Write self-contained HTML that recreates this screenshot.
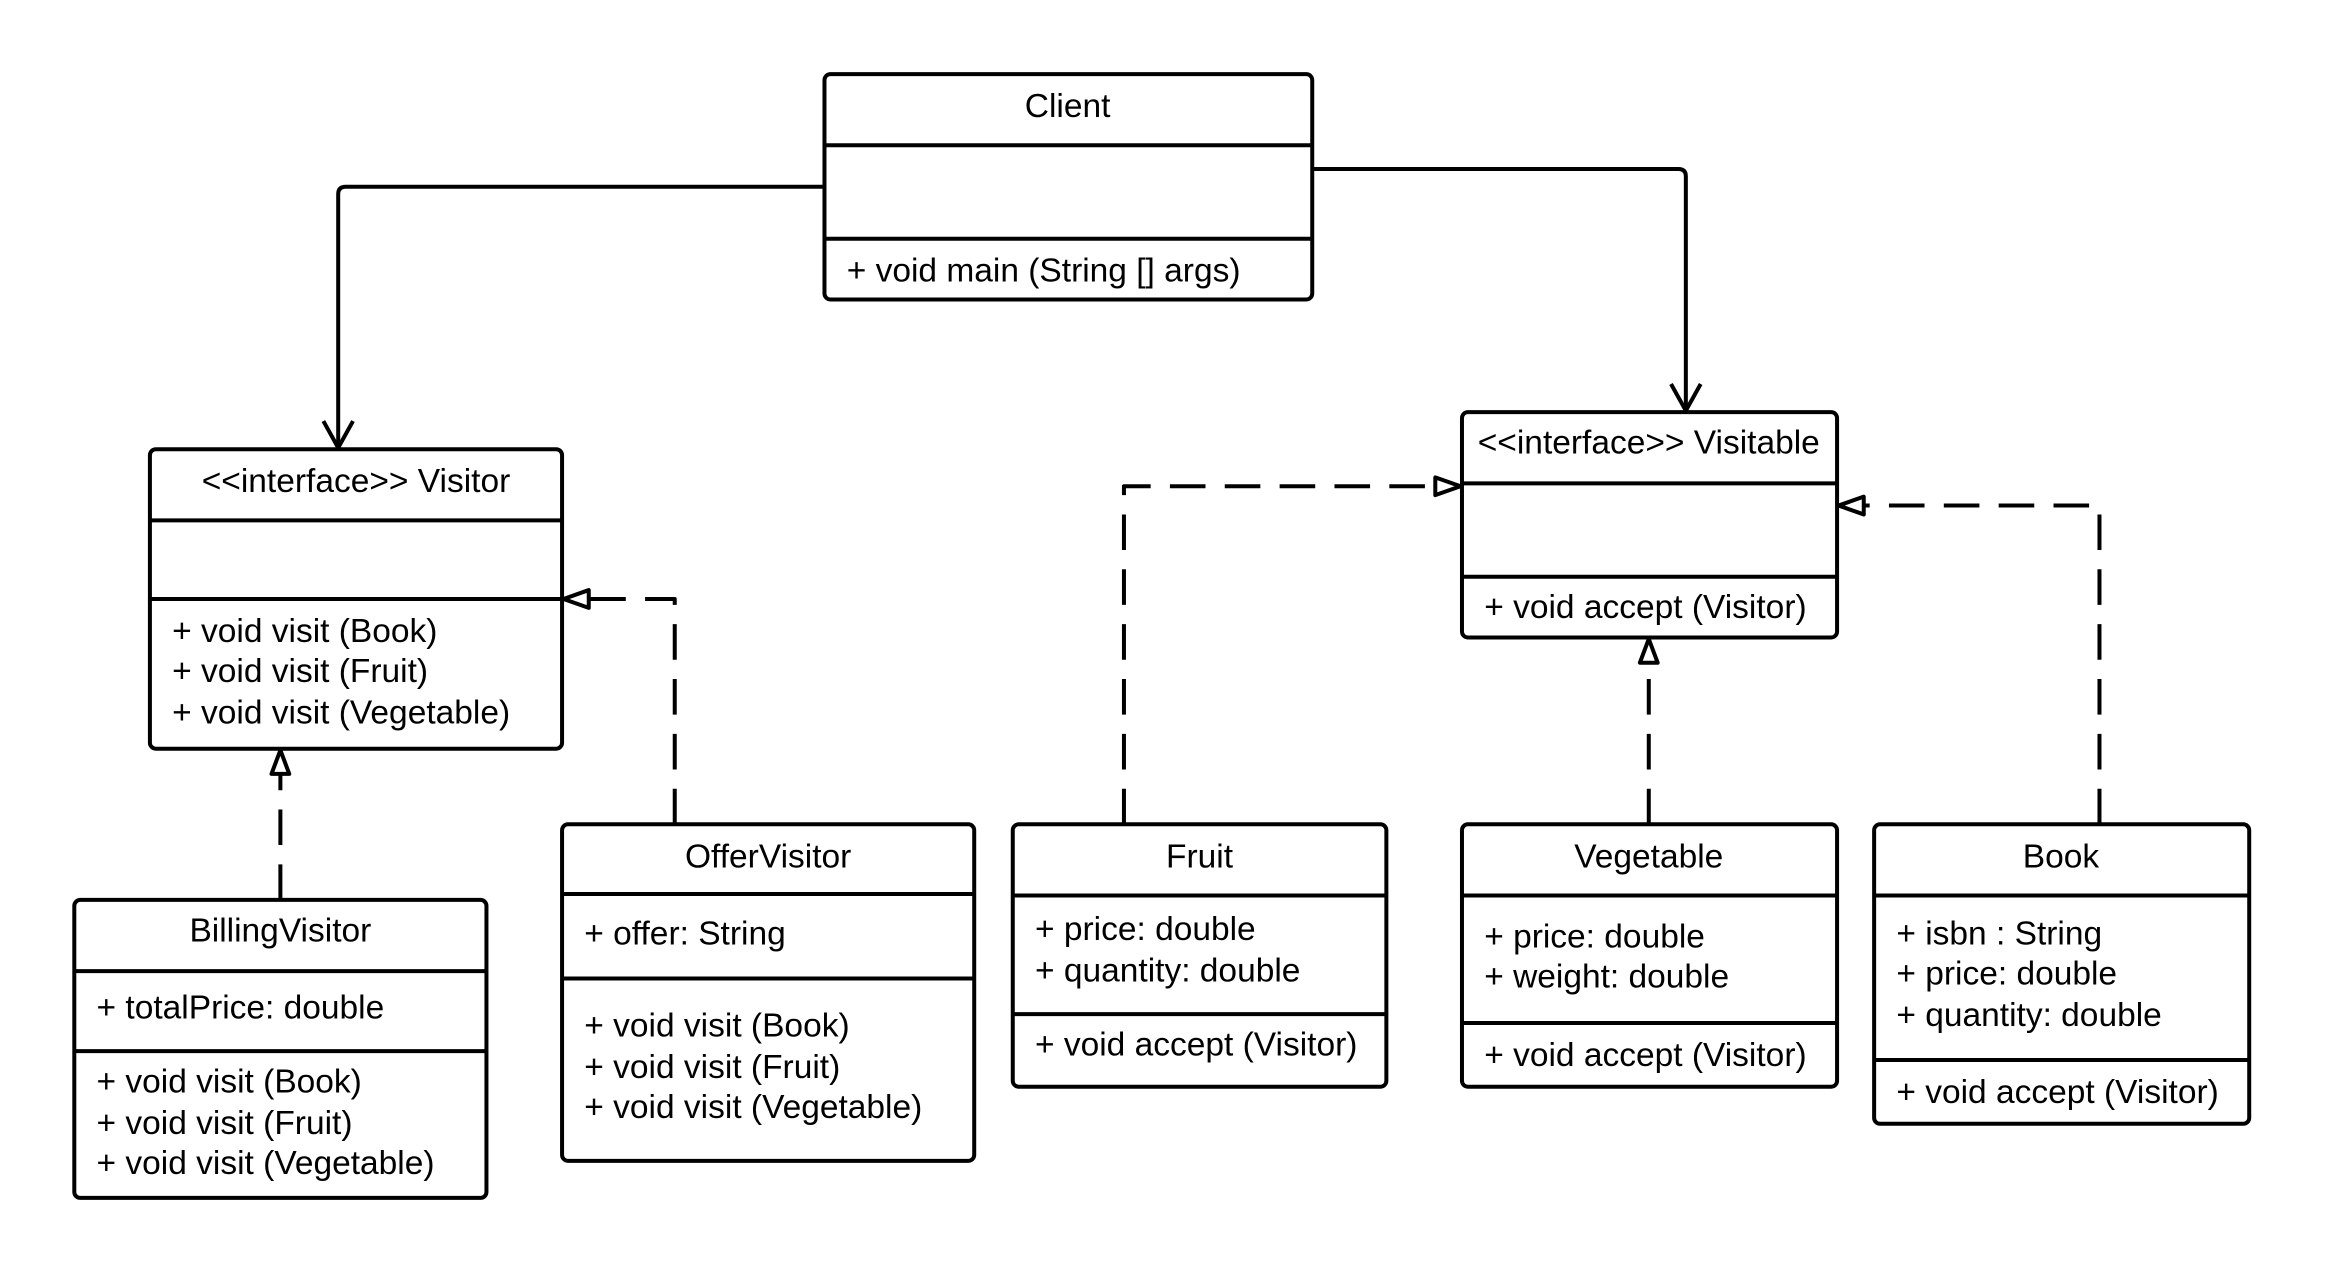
<!DOCTYPE html>
<html><head><meta charset="utf-8"><style>
html,body{margin:0;padding:0;background:#fff;}
svg{display:block;}
text{font-family:"Liberation Sans",Arial,sans-serif;font-size:22.6px;fill:#000;}
</style></head><body>
<svg width="2325" height="1275" viewBox="0 0 1568 860" xmlns="http://www.w3.org/2000/svg">
<g fill="none" stroke="#000" stroke-width="2.7" stroke-linejoin="round">
<rect x="556" y="50" width="329" height="152" rx="4"/>
<path d="M556 98H885M556 161H885"/>
<rect x="101" y="303" width="278" height="202" rx="4"/>
<path d="M101 351H379M101 404H379"/>
<rect x="986" y="278" width="253" height="152" rx="4"/>
<path d="M986 326H1239M986 389H1239"/>
<rect x="379" y="556" width="278" height="227" rx="4"/>
<path d="M379 603H657M379 660H657"/>
<rect x="50" y="607" width="278" height="201" rx="4"/>
<path d="M50 655H328M50 709H328"/>
<rect x="683" y="556" width="252" height="177" rx="4"/>
<path d="M683 604H935M683 684H935"/>
<rect x="986" y="556" width="253" height="177" rx="4"/>
<path d="M986 604H1239M986 690H1239"/>
<rect x="1264" y="556" width="253" height="202" rx="4"/>
<path d="M1264 604H1517M1264 715H1517"/>
<path d="M556 126H233Q228 126 228 131V303"/>
<path d="M218 284L228 302L238 284"/>
<path d="M885 114H1132Q1137 114 1137 119V278"/>
<path d="M1127 259L1137 277L1147 259"/>
<g stroke-dasharray="24 13">
<path d="M189 607V520"/>
<path d="M455 556V404H398"/>
<path d="M758 556V328H968"/>
<path d="M1112 556V449"/>
<path d="M1416 556V341H1257"/>
</g>
<g fill="#fff">
<path d="M189 506L183 522H195Z"/>
<path d="M380 404L397 398V410Z"/>
<path d="M985 328L968 322V334Z"/>
<path d="M1112 431L1106 447H1118Z"/>
<path d="M1240 341L1257 335V347Z"/>
</g>
</g>
<g>
<text x="720" y="79" text-anchor="middle">Client</text>
<text x="571" y="190">+ void main (String [] args)</text>
<text x="240" y="332" text-anchor="middle">&lt;&lt;interface&gt;&gt; Visitor</text>
<text x="116" y="433">+ void visit (Book)</text>
<text x="116" y="460">+ void visit (Fruit)</text>
<text x="116" y="488">+ void visit (Vegetable)</text>
<text x="1112" y="306" text-anchor="middle">&lt;&lt;interface&gt;&gt; Visitable</text>
<text x="1001" y="417">+ void accept (Visitor)</text>
<text x="518" y="585" text-anchor="middle">OfferVisitor</text>
<text x="394" y="637">+ offer: String</text>
<text x="394" y="699">+ void visit (Book)</text>
<text x="394" y="727">+ void visit (Fruit)</text>
<text x="394" y="754">+ void visit (Vegetable)</text>
<text x="189" y="635" text-anchor="middle">BillingVisitor</text>
<text x="65" y="687">+ totalPrice: double</text>
<text x="65" y="737">+ void visit (Book)</text>
<text x="65" y="765">+ void visit (Fruit)</text>
<text x="65" y="792">+ void visit (Vegetable)</text>
<text x="809" y="585" text-anchor="middle">Fruit</text>
<text x="698" y="634">+ price: double</text>
<text x="698" y="662">+ quantity: double</text>
<text x="698" y="712">+ void accept (Visitor)</text>
<text x="1112" y="585" text-anchor="middle">Vegetable</text>
<text x="1001" y="639">+ price: double</text>
<text x="1001" y="666">+ weight: double</text>
<text x="1001" y="719">+ void accept (Visitor)</text>
<text x="1390" y="585" text-anchor="middle">Book</text>
<text x="1279" y="637">+ isbn : String</text>
<text x="1279" y="664">+ price: double</text>
<text x="1279" y="692">+ quantity: double</text>
<text x="1279" y="744">+ void accept (Visitor)</text>
</g>
</svg>
</body></html>
